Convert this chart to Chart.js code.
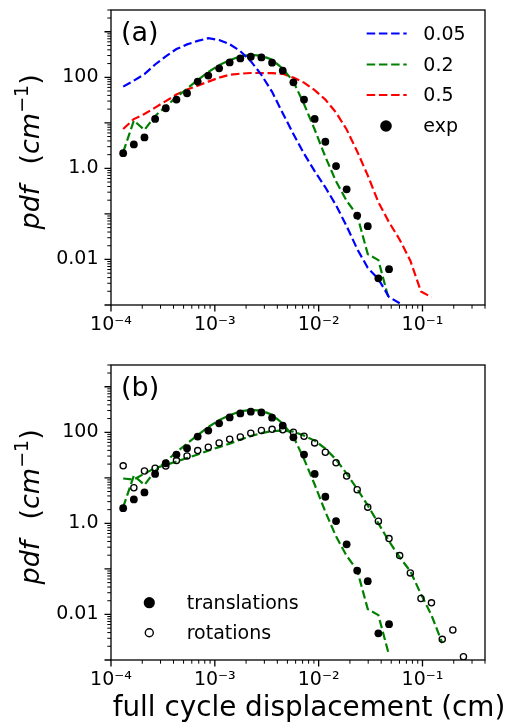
<!DOCTYPE html>
<html>
<head>
<meta charset="utf-8">
<script src="https://cdn.jsdelivr.net/npm/chart.js@4.4.1/dist/chart.umd.min.js"></script>
<style>
html, body { margin: 0; padding: 0; background: #fff; }
#wrap { position: relative; width: 519px; height: 727px; overflow: hidden; }
canvas { position: absolute; left: 0; }
#ca { top: 0; width: 519px; height: 350px; }
#cb { top: 350px; width: 519px; height: 377px; }
</style>
</head>
<body>
<div id="wrap">
  <canvas id="ca" width="519" height="350"></canvas>
  <canvas id="cb" width="519" height="377"></canvas>
</div>
<script>
const FONT = "'DejaVu Sans', 'Liberation Sans', sans-serif";

// ---------- data ----------
const xBins = [1.31e-4, 1.66e-4, 2.10e-4, 2.66e-4, 3.37e-4, 4.27e-4, 5.40e-4, 6.84e-4, 8.65e-4,
  1.10e-3, 1.39e-3, 1.76e-3, 2.22e-3, 2.81e-3, 3.56e-3, 4.51e-3, 5.71e-3, 7.23e-3, 9.15e-3,
  1.16e-2, 1.47e-2, 1.86e-2, 2.35e-2, 2.97e-2, 3.76e-2, 4.76e-2, 6.03e-2, 7.64e-2, 9.67e-2,
  0.122, 0.155, 0.196, 0.248];

// experiment, translations (panel a "exp" and panel b "translations")
const expTrans = [2.16, 3.35, 4.77, 12.2, 20.9, 32.4, 44.6, 80.3, 109, 157, 212, 260, 283, 273,
  209, 140, 77.5, 32.4, 12.2, 3.84, 1.12, 0.347, 0.092, 0.0537, 0.00385, 0.00613];

// experiment, rotations (panel b)
const expRot = [18.3, 6.04, 14.1, 16.2, 18.2, 23.9, 30.3, 39.6, 46.9, 58.4, 70.1, 79.1, 94.9, 109,
  116, 113, 99.8, 81.5, 58.4, 36.4, 21.3, 10.9, 5.47, 2.27, 1.11, 0.463, 0.196, 0.0817, 0.0224,
  0.0180, 0.00284, 0.00454, 0.00118];

// simulations
const sim005 = [62.4, 84.5, 117, 191, 289, 416, 527, 629, 720, 657, 532, 374, 226, 113, 47.8,
  16.2, 5.69, 2.10, 0.867, 0.384, 0.155, 0.0537, 0.0170, 0.00656, 0.00371, 0.00150, 0.00109];
const sim02 = [2.27, 11.2, 6.97, 14.1, 22.8, 36.7, 56.4, 86.7, 130, 185, 237, 290, 308, 298, 243,
  155, 80.3, 25.8, 7.14, 1.79, 0.519, 0.194, 0.0935, 0.0131, 0.00966, 0.00129];
const sim05 = [7.32, 12.1, 15.6, 21.6, 30.0, 41.7, 53.7, 65.6, 80.3, 98.2, 114, 120, 124, 124, 123,
  119, 98.2, 76.4, 52.3, 32.4, 16.8, 7.14, 2.35, 0.701, 0.180, 0.0656, 0.0272, 0.00942, 0.00198,
  0.00148];
const simRot = [9.66, 9.18, 12.4, 16.4, 19.1, 22.8, 27.2, 32.4, 39.6, 47.3, 56.4, 69.0, 82.4, 95.8,
  106, 109, 103, 84.5, 65.6, 43.9, 25.2, 12.4, 5.69, 2.48, 1.00, 0.404, 0.180, 0.0889, 0.0279,
  0.00966, 0.00235];

// ticks and text
const xTickVals = [1e-4, 1e-3, 1e-2, 1e-1];
const xTickLabels = ['10\u207B\u2074', '10\u207B\u00B3', '10\u207B\u00B2', '10\u207B\u00B9'];
const yTickVals = [0.01, 1, 100];
const yTickLabels = ['0.01', '1.0', '100'];
const xRange = [1e-4, 0.4];
const yRange = [1e-3, 3000];
const legendA = ['0.05', '0.2', '0.5', 'exp'];
const legendB = ['translations', 'rotations'];
const panelLabels = ['(a)', '(b)'];
const xTitle = 'full cycle displacement (cm)';
// y title pieces: [text, style] ; style: i = italic, r = upright, s = superscript
const yTitleParts = [['pdf', 'i'], ['  ', 'r'], ['(', 'r'], ['cm', 'i'], ['\u22121', 's'], [')', 'r']];

const BLUE = '#0000ff', GREEN = '#008000', RED = '#ff0000';
const DASH = [8.5, 3.7];

function pts(ys) { return ys.map((y, i) => ({ x: xBins[i], y: y })); }

function lineDs(label, ys, color) {
  return { label, data: pts(ys), showLine: true, borderColor: color, backgroundColor: color,
    borderWidth: 2.2, borderDash: DASH, pointRadius: 0, pointHoverRadius: 0, tension: 0, clip: 0 };
}
function dotDs(label, ys, filled) {
  return { label, data: pts(ys), showLine: false, pointStyle: 'circle',
    pointRadius: filled ? 3.9 : 3.1, pointBorderWidth: filled ? 0 : 1.3,
    pointBackgroundColor: filled ? '#000' : 'rgba(0,0,0,0)', pointBorderColor: '#000' };
}

function logTicks(lo, hi) {
  const major = [], minor = [];
  for (let e = Math.floor(Math.log10(lo)); e <= Math.ceil(Math.log10(hi)); e++) {
    for (let m = 1; m <= 9; m++) {
      const v = m * Math.pow(10, e);
      if (v < lo * 0.999 || v > hi * 1.001) continue;
      (m === 1 ? major : minor).push(v);
    }
  }
  return { major, minor };
}

function drawYTitle(ctx, cx, yStart) {
  ctx.save();
  ctx.translate(cx, yStart);
  ctx.rotate(-Math.PI / 2);
  ctx.fillStyle = '#000';
  ctx.textAlign = 'left';
  ctx.textBaseline = 'middle';
  let x = 0;
  yTitleParts.forEach(([t, s]) => {
    let dy = 0;
    if (s === 'i') ctx.font = 'italic 27px ' + FONT;
    else if (s === 'r') ctx.font = '27px ' + FONT;
    else { ctx.font = '19px ' + FONT; dy = -8.5; }
    ctx.fillText(t, x, dy);
    x += ctx.measureText(t).width + (t.trim() === '' ? 4 : 0);
  });
  ctx.restore();
}

function decor(cfg) {
  return {
    id: 'decor_' + cfg.name,
    afterDatasetsDraw(chart) {
      const ctx = chart.ctx, a = chart.chartArea, xs = chart.scales.x, ys = chart.scales.y;
      ctx.save();
      ctx.strokeStyle = '#000';
      // frame
      ctx.lineWidth = 1.3;
      ctx.strokeRect(a.left, a.top, a.right - a.left, a.bottom - a.top);
      // tick marks
      const xt = logTicks(xRange[0], xRange[1]);
      const yt = logTicks(yRange[0], yRange[1]);
      const tick = (vals, len, lw, isX) => {
        ctx.lineWidth = lw;
        ctx.beginPath();
        vals.forEach(v => {
          if (isX) { const p = xs.getPixelForValue(v); ctx.moveTo(p, a.bottom); ctx.lineTo(p, a.bottom + len); }
          else { const p = ys.getPixelForValue(v); ctx.moveTo(a.left, p); ctx.lineTo(a.left - len, p); }
        });
        ctx.stroke();
      };
      tick(xt.major, 6.5, 1.3, true); tick(xt.minor, 3.7, 1.0, true);
      tick(yt.major, 6.5, 1.3, false); tick(yt.minor, 3.7, 1.0, false);
      // panel label
      ctx.fillStyle = '#000';
      ctx.font = '27px ' + FONT;
      ctx.textAlign = 'left'; ctx.textBaseline = 'alphabetic';
      ctx.fillText(cfg.panel, a.left + 10, a.top + 30.5);
      // legend
      ctx.font = '19px ' + FONT;
      ctx.textBaseline = 'middle';
      cfg.legend.forEach(it => {
        const yy = a.top + it.dy;
        if (it.kind === 'line') {
          ctx.strokeStyle = it.color; ctx.lineWidth = 2.2; ctx.setLineDash(DASH);
          ctx.beginPath(); ctx.moveTo(it.x1, yy); ctx.lineTo(it.x2, yy); ctx.stroke();
          ctx.setLineDash([]);
        } else {
          ctx.beginPath(); ctx.arc(it.mx, yy, it.r, 0, Math.PI * 2);
          if (it.filled) { ctx.fillStyle = '#000'; ctx.fill(); }
          else { ctx.strokeStyle = '#000'; ctx.lineWidth = 1.4; ctx.stroke(); }
        }
        ctx.fillStyle = '#000';
        ctx.fillText(it.text, it.tx, yy + 1.5);
      });
      // axis titles
      drawYTitle(ctx, 32, (a.top + a.bottom) / 2 + 72);
      if (cfg.xTitle) {
        ctx.font = '27.8px ' + FONT;
        ctx.textAlign = 'center';
        ctx.textBaseline = 'alphabetic';
        ctx.fillStyle = '#000';
        ctx.fillText(cfg.xTitle, 309, a.bottom + 56);
      }
      ctx.restore();
    }
  };
}

function makeChart(id, datasets, cfg) {
  return new Chart(document.getElementById(id), {
    type: 'scatter',
    data: { datasets },
    options: {
      responsive: false, animation: false, devicePixelRatio: 1, events: [],
      layout: { padding: { left: 0, right: 34, top: cfg.top, bottom: 0 } },
      plugins: { legend: { display: false }, tooltip: { enabled: false }, title: { display: false } },
      scales: {
        x: {
          type: 'logarithmic', position: 'bottom', min: xRange[0], max: xRange[1],
          afterBuildTicks: s => { s.ticks = xTickVals.map(v => ({ value: v })); },
          afterFit: s => { s.height = cfg.xh; s.paddingLeft = 0; s.paddingRight = 0; },
          ticks: { callback: (v, i) => xTickLabels[i], autoSkip: false, maxRotation: 0, minRotation: 0,
            padding: 9, color: '#000', font: { family: FONT, size: 19 } },
          grid: { display: false, drawTicks: false }, border: { display: false },
          title: { display: false }
        },
        y: {
          type: 'logarithmic', position: 'left', min: yRange[0], max: yRange[1],
          afterBuildTicks: s => { s.ticks = yTickVals.map(v => ({ value: v })); },
          afterFit: s => { s.width = 111; s.paddingTop = 0; s.paddingBottom = 0; },
          ticks: { callback: (v, i) => yTickLabels[i], autoSkip: false, padding: 12.5, color: '#000',
            font: { family: FONT, size: 19 } },
          grid: { display: false, drawTicks: false }, border: { display: false },
          title: { display: false }
        }
      }
    },
    plugins: [decor(cfg)]
  });
}

makeChart('ca', [
  dotDs(legendA[3], expTrans, true),
  lineDs(legendA[0], sim005, BLUE),
  lineDs(legendA[1], sim02, GREEN),
  lineDs(legendA[2], sim05, RED)
], {
  name: 'a', top: 10, xh: 45, panel: panelLabels[0], xTitle: null,
  legend: [
    { kind: 'line', color: BLUE, x1: 366.7, x2: 406.7, dy: 23.5, text: legendA[0], tx: 423.3 },
    { kind: 'line', color: GREEN, x1: 366.7, x2: 406.7, dy: 54.5, text: legendA[1], tx: 423.3 },
    { kind: 'line', color: RED, x1: 366.7, x2: 406.7, dy: 85, text: legendA[2], tx: 423.3 },
    { kind: 'dot', filled: true, mx: 386, r: 5.8, dy: 116, text: legendA[3], tx: 423.3 }
  ]
});

makeChart('cb', [
  dotDs(legendB[0], expTrans, true),
  dotDs(legendB[1], expRot, false),
  lineDs('sim translations', sim02, GREEN),
  lineDs('sim rotations', simRot, GREEN)
], {
  name: 'b', top: 15, xh: 67, panel: panelLabels[1], xTitle: xTitle,
  legend: [
    { kind: 'dot', filled: true, mx: 149.3, r: 5.6, dy: 237.7, text: legendB[0], tx: 186.7 },
    { kind: 'dot', filled: false, mx: 149.3, r: 4.0, dy: 267.7, text: legendB[1], tx: 186.7 }
  ]
});
</script>
</body>
</html>
